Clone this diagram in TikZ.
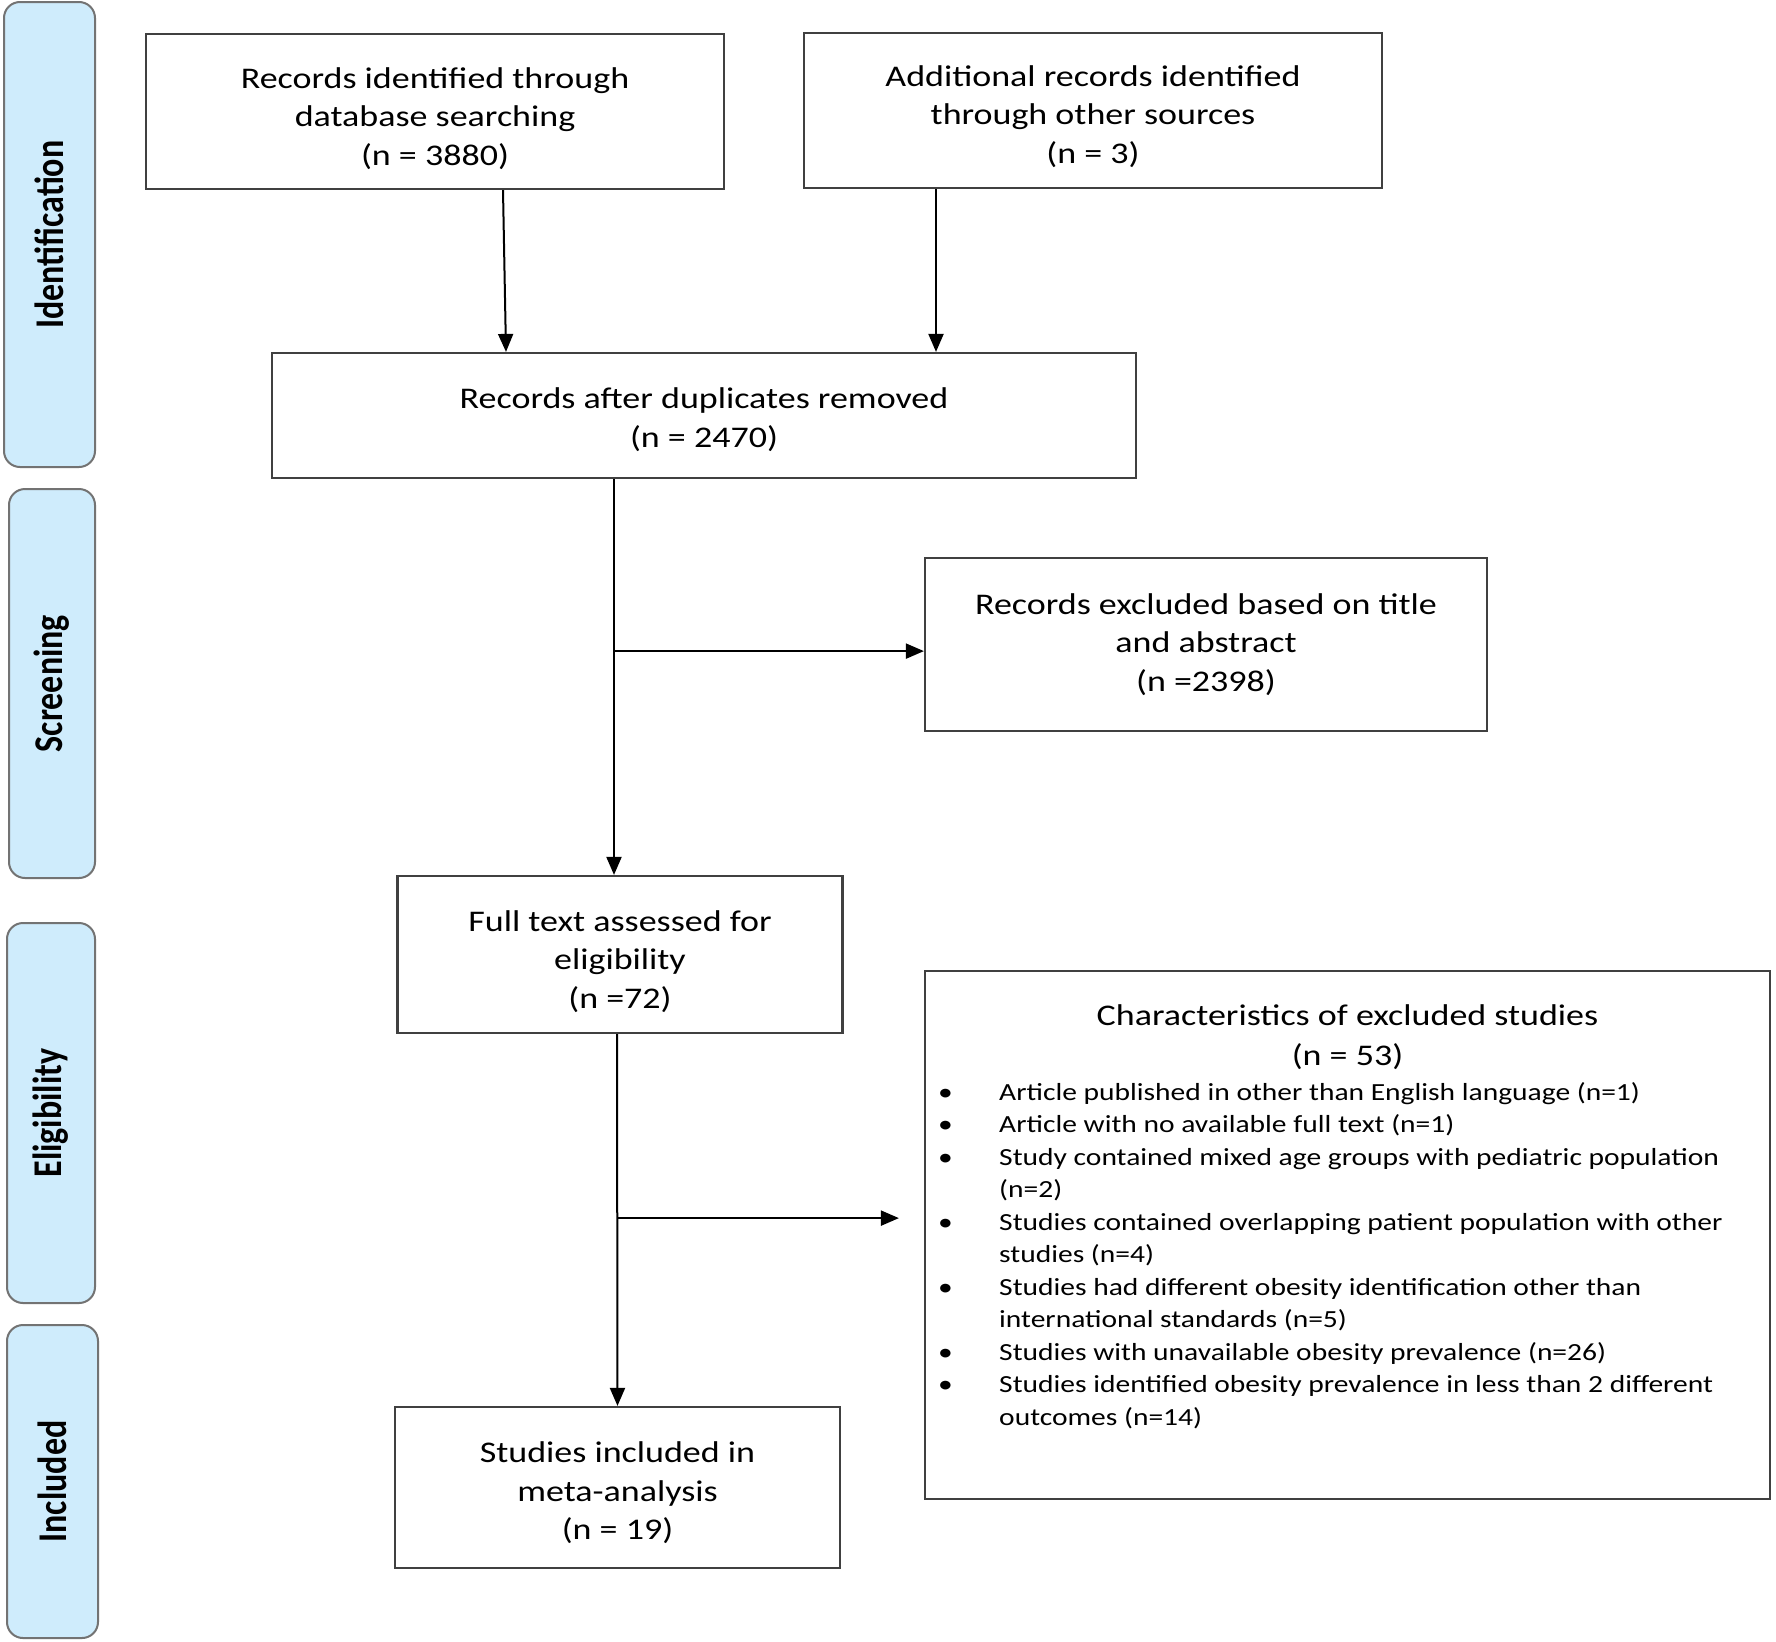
\documentclass[tikz,border=0pt]{standalone}
\usepackage{fontspec}
\usepackage{graphicx}
\setmainfont{Carlito}
\newfontfamily\boxfont[FakeStretch=1.2]{Carlito}
\usetikzlibrary{arrows.meta,calc}
\definecolor{sidefill}{RGB}{207,236,252}
\definecolor{sideline}{RGB}{115,115,115}
\definecolor{boxline}{RGB}{64,64,64}
\newcommand{\stagetext}[1]{\scalebox{1}[1.2]{#1}}
\tikzset{
  stage/.style={draw=sideline, line width=2pt, fill=sidefill, rounded corners=16pt,
    inner sep=0pt, rotate=90, font=\fontsize{34}{36}\selectfont\bfseries},
  flowbox/.style={draw=boxline, line width=2.2pt, inner sep=0pt},
  boxtext/.style={inner sep=0pt, align=center, font=\boxfont\fontsize{30}{38.5}\selectfont},
  headtext/.style={inner sep=0pt, align=center, font=\boxfont\fontsize{30}{40}\selectfont},
  listtext/.style={inner sep=0pt, align=left, font=\boxfont\fontsize{24.6}{32.5}\selectfont},
  arr/.style={line width=2pt, -{Triangle[length=18pt,width=15pt]}},
}
\begin{document}
\begin{tikzpicture}[x=1pt,y=-1pt]
\useasboundingbox (0,0) rectangle (1776,1641);
\fill[white] (0,0) rectangle (1776,1641);

% stage bars
\node[stage, minimum width=465pt, minimum height=91pt] (st1) at (49.5,234.5) {\stagetext{Identification}};
\node[stage, minimum width=389pt, minimum height=86pt] (st2) at (52,683.5) {\stagetext{Screening}};
\node[stage, minimum width=380pt, minimum height=88pt] (st3) at (51,1113) {\stagetext{Eligibility}};
\node[stage, minimum width=313pt, minimum height=91pt] (st4) at (52.5,1481.5) {\stagetext{Included}};

% flow boxes
\node[flowbox, minimum width=578pt, minimum height=155pt,
  label={[boxtext, yshift=-7pt]center:{Records identified through\\database searching\\(n = 3880)}}]
  (box1) at (435,111.5) {};
\node[flowbox, minimum width=578pt, minimum height=155pt,
  label={[boxtext, yshift=-6pt]center:{Additional records identified\\through other sources\\(n = 3)}}]
  (box2) at (1093,110.5) {};
\node[flowbox, minimum width=864pt, minimum height=125pt,
  label={[boxtext, yshift=-4pt]center:{Records after duplicates removed\\(n = 2470)}}]
  (box3) at (704,415.5) {};
\node[flowbox, minimum width=562pt, minimum height=173pt,
  label={[boxtext]center:{Records excluded based on title\\and abstract\\(n =2398)}}]
  (box4) at (1206,644.5) {};
\node[flowbox, minimum width=445pt, minimum height=157pt,
  label={[boxtext, yshift=-7pt]center:{Full text assessed for\\eligibility\\(n =72)}}]
  (box5) at (620,954.5) {};
\node[flowbox, minimum width=845pt, minimum height=528pt] (box6) at (1347.5,1235) {};
\node[flowbox, minimum width=445pt, minimum height=161pt,
  label={[boxtext, yshift=-5.5pt]center:{Studies included in\\meta-analysis\\(n = 19)}}]
  (box7) at (617.5,1487.5) {};

% contents of the exclusion box
\node[headtext] (head6) at (1347.5,1037)
  {Characteristics of excluded studies\\(n = 53)};
\node[listtext, anchor=north west] (list6) at (938,1077.5) {%
\begin{tabular}{@{}p{61pt}@{}l@{}}
\textbullet & Article published in other than English language (n=1)\\
\textbullet & Article with no available full text (n=1)\\
\textbullet & Study contained mixed age groups with pediatric population\\
 & (n=2)\\
\textbullet & Studies contained overlapping patient population with other\\
 & studies (n=4)\\
\textbullet & Studies had different obesity identification other than\\
 & international standards (n=5)\\
\textbullet & Studies with unavailable obesity prevalence (n=26)\\
\textbullet & Studies identified obesity prevalence in less than 2 different\\
 & outcomes (n=14)
\end{tabular}};

% connectors
\draw[arr] ([xshift=68pt]box1.south) -- ([xshift=-198pt]box3.north);
\draw[arr] ([xshift=-157pt]box2.south) -- ([xshift=232pt]box3.north);
\coordinate (s3) at ([xshift=-90pt]box3.south);
\draw[arr] (s3) -- (s3 |- box5.north);
\coordinate (b1) at ($(s3)+(0,172)$);
\draw[arr] (b1) -- (b1 -| box4.west);
\coordinate (s5) at ([xshift=-3pt]box5.south);
\draw[arr] (s5) -- (box7.north);
\coordinate (b2) at ($(s5)+(0,184)$);
\coordinate (e2) at ($(b2 -| box6.west)+(-25,0)$);
\draw[arr] (b2) -- (e2);
\end{tikzpicture}
\end{document}
